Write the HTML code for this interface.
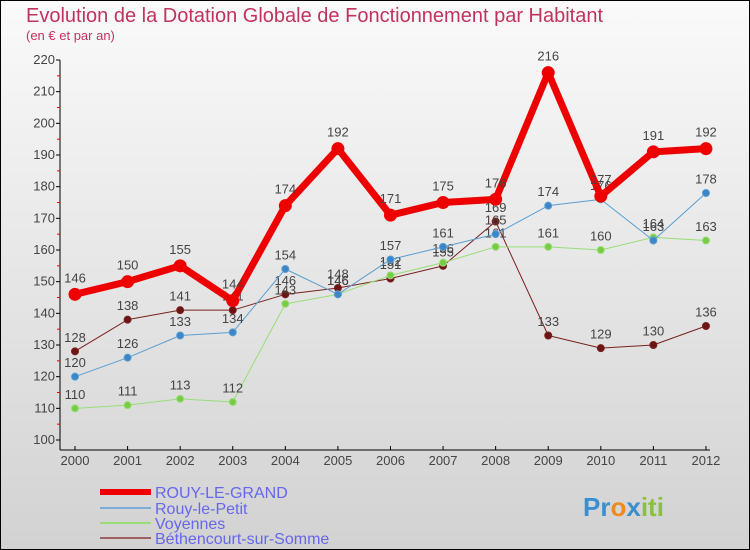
<!DOCTYPE html>
<html><head><meta charset="utf-8"><style>
body{margin:0}
#c{width:750px;height:550px;position:relative;overflow:hidden;font-family:"Liberation Sans",sans-serif}
</style></head><body>
<div id="c">
<svg id="s" width="750" height="550" xmlns="http://www.w3.org/2000/svg">
<defs><linearGradient id="bg" x1="0" y1="0" x2="0" y2="1"><stop offset="0" stop-color="#fafafa"/><stop offset="1" stop-color="#d2d2d2"/></linearGradient></defs>
<rect x="0.5" y="0.5" width="749" height="549" fill="url(#bg)" stroke="#000"/>
<text x="26" y="22" font-size="20" fill="#c0335f">Evolution de la Dotation Globale de Fonctionnement par Habitant</text>
<text x="26" y="40" font-size="13" fill="#c0335f">(en € et par an)</text>
<g id="axes"></g><g id="series"></g>
<g font-size="16" fill="#6666ee">
<line x1="100" y1="492" x2="151" y2="492" stroke="#e00" stroke-width="6"/>
<text x="155" y="498">ROUY-LE-GRAND</text>
<line x1="100" y1="508" x2="151" y2="508" stroke="#7aaed8" stroke-width="2"/>
<text x="155" y="514">Rouy-le-Petit</text>
<line x1="100" y1="523" x2="151" y2="523" stroke="#99dd77" stroke-width="2"/>
<text x="155" y="529">Voyennes</text>
<line x1="100" y1="538" x2="151" y2="538" stroke="#a06060" stroke-width="2"/>
<text x="155" y="544">Béthencourt-sur-Somme</text>
</g>
<g font-size="26" font-weight="bold">
<text x="583" y="516"><tspan fill="#3a8fd0">Pr</tspan><tspan fill="#f08a1c">o</tspan><tspan fill="#3a8fd0">x</tspan><tspan fill="#88c23a">iti</tspan></text>
</g>
</svg>
</div>
<script>
const years=["2000","2001","2002","2003","2004","2005","2006","2007","2008","2009","2010","2011","2012"];
const yTicks=[100,110,120,130,140,150,160,170,180,190,200,210,220];
const rougGrand=[146,150,155,144,174,192,171,175,176,216,177,191,192];
const rouyPetit=[120,126,133,134,154,146,157,161,165,174,176,163,178];
const voyennes=[110,111,113,112,143,146,152,156,161,161,160,164,163];
const bethencourt=[128,138,141,141,146,148,151,155,169,133,129,130,136];
const NS="http://www.w3.org/2000/svg";
function X(i){return 75+i*52.58;}
function Y(v){return 440-(v-100)*380/120;}
function mk(t,a,p){const e=document.createElementNS(NS,t);for(const k in a)e.setAttribute(k,a[k]);p.appendChild(e);return e;}
const ax=document.getElementById('axes');
let e=mk('line',{x1:60,y1:60,x2:60,y2:450,stroke:'#000'},ax);


e=mk('line',{x1:60,y1:450,x2:710,y2:450,stroke:'#000'},ax);


yTicks.forEach(v=>{
 mk('line',{x1:56,y1:Y(v),x2:60,y2:Y(v),stroke:'#000'},ax);
 if(v<220)mk('line',{x1:57,y1:Y(v+5),x2:60,y2:Y(v+5),stroke:'#e00'},ax);
 const t=mk('text',{x:55,y:Y(v)+4,'font-size':13,'text-anchor':'end',fill:'#444'},ax);
 t.textContent=v;
 
 
});
years.forEach((y,i)=>{
 mk('line',{x1:X(i),y1:446,x2:X(i),y2:450,stroke:'#000'},ax);
 const t=mk('text',{x:X(i),y:465,'font-size':13,'text-anchor':'middle',fill:'#444'},ax);
 t.textContent=y;
 
 
});
const sg=document.getElementById('series');
function draw(data,name,col,w,r,dot){
 const g=mk('g',{},sg);
 
 
 const p=mk('polyline',{points:data.map((v,i)=>X(i)+','+Y(v)).join(' '),fill:'none',stroke:col,'stroke-width':w,'stroke-linejoin':'round'},g);
 
 
 data.forEach((v,i)=>{
  const c=mk('circle',{cx:X(i),cy:Y(v),r:r,fill:dot,stroke:col,'stroke-width':1},g);
  
  
  const t=mk('text',{x:X(i),y:Y(v)-(r+6),'font-size':13,'text-anchor':'middle',fill:'#444'},g);
  t.textContent=v;
  
  
 });
}
draw(bethencourt,'bethencourt','#7a2020',1,3.5,'#6b1515');
draw(voyennes,'voyennes','#99dd77',1,3.5,'#77cc44');
draw(rouyPetit,'rouy-le-petit','#5a9ed0',1,3.5,'#3a86c8');
draw(rougGrand,'rouy-le-grand','#ee0000',7,6,'#ee0000');
</script>
</body></html>
